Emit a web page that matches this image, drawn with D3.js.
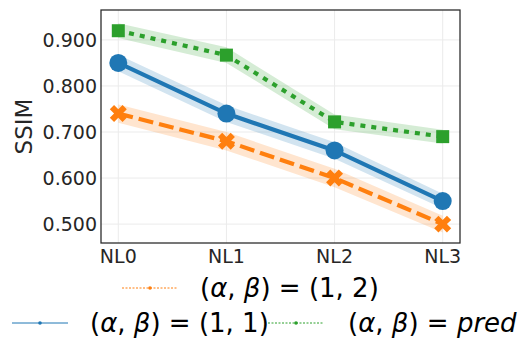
<!DOCTYPE html>
<html>
<head>
<meta charset="utf-8">
<script src="https://cdn.jsdelivr.net/npm/d3@7"></script>
<style>
  body { margin: 0; background: #fff; }
  svg { font-family: "DejaVu Sans", sans-serif; }
</style>
</head>
<body>
<div id="chart"></div>
<script>
// data
var levels = ["NL0", "NL1", "NL2", "NL3"];
var yTicks = [0.5, 0.6, 0.7, 0.8, 0.9];

var ssim11 = [0.850, 0.740, 0.660, 0.550];
var ssim11Lo = [0.832, 0.722, 0.642, 0.534];
var ssim11Hi = [0.868, 0.758, 0.678, 0.566];

var ssim12 = [0.740, 0.680, 0.600, 0.500];
var ssim12Lo = [0.720, 0.660, 0.580, 0.482];
var ssim12Hi = [0.760, 0.700, 0.620, 0.518];

var ssimPred = [0.920, 0.867, 0.722, 0.690];
var ssimPredLo = [0.904, 0.850, 0.706, 0.675];
var ssimPredHi = [0.936, 0.884, 0.738, 0.705];

var W = 522, H = 338;
var margin = {top: 10, right: 62, bottom: 95, left: 101};
var width = W - margin.left - margin.right,
    height = H - margin.top - margin.bottom;

var svg = d3.select("#chart").append("svg")
    .attr("width", W).attr("height", H);
var g = svg.append("g")
    .attr("transform", "translate(" + margin.left + "," + margin.top + ")");

var x = d3.scalePoint().domain(levels).range([0, width]).padding(0.16);
var y = d3.scaleLinear().domain([0.459, 0.965]).range([height, 0]);

// grid
g.selectAll(".gy").data(yTicks).enter().append("line")
  .attr("x1", 0).attr("x2", width)
  .attr("y1", function(d){ return y(d); }).attr("y2", function(d){ return y(d); })
  .attr("stroke", "#ebebeb").attr("stroke-width", 1);
g.selectAll(".gx").data(levels).enter().append("line")
  .attr("y1", 0).attr("y2", height)
  .attr("x1", function(d){ return x(d); }).attr("x2", function(d){ return x(d); })
  .attr("stroke", "#ebebeb").attr("stroke-width", 1);

var series = [
  {name: "11", vals: ssim11, lo: ssim11Lo, hi: ssim11Hi, color: "#1f77b4", dash: null, marker: "circle"},
  {name: "12", vals: ssim12, lo: ssim12Lo, hi: ssim12Hi, color: "#ff7f0e", dash: "15,6", marker: "x"},
  {name: "pred", vals: ssimPred, lo: ssimPredLo, hi: ssimPredHi, color: "#2ca02c", dash: "5,6", marker: "square"}
];

var area = d3.area()
  .x(function(d, i){ return x(levels[i]); })
  .y0(function(d){ return y(d[0]); })
  .y1(function(d){ return y(d[1]); });
var line = d3.line()
  .x(function(d, i){ return x(levels[i]); })
  .y(function(d){ return y(d); });

series.forEach(function(s){
  g.append("path")
    .datum(s.lo.map(function(v, i){ return [v, s.hi[i]]; }))
    .attr("d", area)
    .attr("fill", s.color).attr("fill-opacity", 0.2);
});

series.forEach(function(s){
  g.append("path").datum(s.vals).attr("d", line)
    .attr("fill", "none").attr("stroke", s.color)
    .attr("stroke-width", 4.2)
    .attr("stroke-dasharray", s.dash);
});

function markerPath(type){
  if (type == "circle") return d3.symbol(d3.symbolCircle, Math.PI * 9 * 9)();
  if (type == "square") return d3.symbol(d3.symbolSquare, 13 * 13)();
  return d3.symbol(d3.symbolCross, 180)();
}

series.forEach(function(s){
  g.selectAll(".m" + s.name).data(s.vals).enter().append("path")
    .attr("d", markerPath(s.marker))
    .attr("transform", function(d, i){
      return "translate(" + x(levels[i]) + "," + y(d) + ")" + (s.marker == "x" ? " rotate(45)" : "");
    })
    .attr("fill", s.color);
});

// frame
g.append("rect").attr("width", width).attr("height", height)
  .attr("fill", "none").attr("stroke", "#262626").attr("stroke-width", 1.25);

// tick labels
g.selectAll(".yl").data(yTicks).enter().append("text")
  .attr("x", -4).attr("y", function(d){ return y(d); })
  .attr("dy", "0.36em").attr("text-anchor", "end")
  .attr("font-size", 19).attr("fill", "#262626")
  .text(function(d){ return d3.format(".3f")(d); });
g.selectAll(".xl").data(levels).enter().append("text")
  .attr("x", function(d){ return x(d); }).attr("y", height + 20)
  .attr("text-anchor", "middle")
  .attr("font-size", 19).attr("fill", "#262626")
  .text(function(d){ return d; });

svg.append("text")
  .attr("transform", "translate(32," + (margin.top + height / 2) + ") rotate(-90)")
  .attr("text-anchor", "middle")
  .attr("font-size", 23).attr("fill", "#262626")
  .text("SSIM");

// legend
var legend = [
  {s: series[1], lx: 122, ly: 288, tx: 200, label: "(1, 2)", lineDash: "2,1.5"},
  {s: series[0], lx: 12, ly: 323, tx: 90, label: "(1, 1)", lineDash: null},
  {s: series[2], lx: 268, ly: 323, tx: 348, label: "pred", lineDash: "2,1.5"}
];
legend.forEach(function(l){
  svg.append("line")
    .attr("x1", l.lx).attr("x2", l.lx + 56)
    .attr("y1", l.ly).attr("y2", l.ly)
    .attr("stroke", l.s.color).attr("stroke-width", 1)
    .attr("stroke-dasharray", l.lineDash);
  svg.append("circle").attr("cx", l.lx + 28).attr("cy", l.ly).attr("r", 1.8)
    .attr("fill", l.s.color);
  var t = svg.append("text").attr("x", l.tx).attr("y", l.ly + 9)
    .attr("font-size", 26).attr("fill", "#000");
  t.append("tspan").text("(");
  t.append("tspan").attr("font-style", "italic").text("α");
  t.append("tspan").text(", ");
  t.append("tspan").attr("font-style", "italic").text("β");
  t.append("tspan").text(") = ");
  if (l.label == "pred") t.append("tspan").attr("font-style", "italic").text("pred");
  else t.append("tspan").text(l.label);
});
</script>
</body>
</html>
